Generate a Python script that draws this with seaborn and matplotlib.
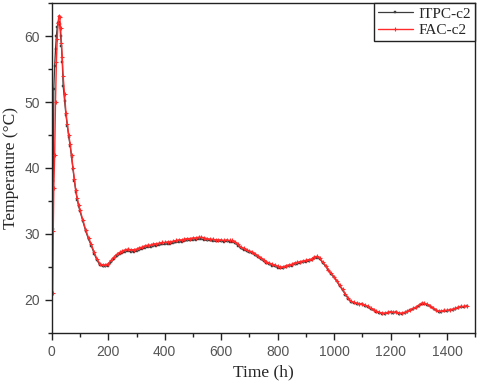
import numpy as np
import pandas as pd
import seaborn as sns
import matplotlib.pyplot as plt
from matplotlib.ticker import MultipleLocator

# sampling times (h)
time_h = [3, 5, 7, 10, 13, 16, 19, 22, 25, 28, 31, 34, 37, 40, 45, 50, 55, 60, 65, 70,
          75, 80, 85, 90, 95, 100] + list(range(110, 1471, 10))

fac_c2 = [21.0, 30.5, 37.0, 42.0, 50.0, 56.0, 59.5, 62.0, 63.1, 62.9, 61.2, 59.0, 56.8,
          54.0, 51.2, 48.4, 46.6, 45.0, 43.6, 41.9, 40.0, 38.3, 36.6, 35.4, 34.4, 33.6,
          # 110 - 300
          32.1, 30.6, 29.4, 28.4, 27.2, 26.2, 25.5, 25.3, 25.3, 25.5, 26.0, 26.5, 26.9,
          27.2, 27.4, 27.6, 27.7, 27.6, 27.6, 27.7,
          # 310 - 500
          27.9, 28.0, 28.2, 28.3, 28.3, 28.5, 28.5, 28.6, 28.7, 28.7, 28.8, 28.8, 28.9,
          29.0, 29.1, 29.1, 29.2, 29.3, 29.3, 29.4,
          # 510 - 700
          29.4, 29.5, 29.5, 29.4, 29.3, 29.2, 29.2, 29.1, 29.1, 29.1, 29.0, 29.1, 29.0,
          29.0, 28.8, 28.4, 28.0, 27.8, 27.6, 27.4,
          # 710 - 900
          27.3, 27.0, 26.7, 26.4, 26.1, 25.8, 25.6, 25.4, 25.3, 25.1, 25.0, 25.0, 25.2,
          25.3, 25.4, 25.6, 25.7, 25.8, 25.9, 26.0,
          # 910 - 1100
          26.1, 26.2, 26.5, 26.6, 26.3, 25.7, 25.2, 24.6, 24.0, 23.5, 22.9, 22.2, 21.6,
          20.9, 20.3, 19.8, 19.6, 19.5, 19.4, 19.4,
          # 1110 - 1300
          19.2, 19.0, 18.7, 18.5, 18.3, 18.1, 18.0, 18.0, 18.1, 18.2, 18.1, 18.2, 18.0,
          18.0, 18.1, 18.3, 18.5, 18.7, 18.9, 19.2,
          # 1310 - 1470
          19.5, 19.5, 19.3, 19.1, 18.8, 18.5, 18.3, 18.3, 18.4, 18.4, 18.5, 18.6, 18.7,
          18.9, 19.0, 19.0, 19.1]

itpc_c2 = [30.8, 38.0, 52.0, 55.5, 58.0, 60.0, 61.3, 62.0, 62.2, 61.8, 60.0, 58.5, 56.0,
           52.5, 50.2, 48.0, 46.3, 44.7, 43.3, 41.6, 39.8, 38.0, 36.4, 35.2, 34.2, 33.4,
           # 110 - 300
           31.9, 30.4, 29.2, 28.2, 27.0, 26.0, 25.3, 25.1, 25.1, 25.2, 25.7, 26.2, 26.6,
           26.9, 27.1, 27.3, 27.4, 27.3, 27.3, 27.4,
           # 310 - 500
           27.6, 27.7, 27.9, 28.0, 28.0, 28.2, 28.2, 28.3, 28.4, 28.4, 28.5, 28.5, 28.6,
           28.7, 28.8, 28.8, 28.9, 29.0, 29.0, 29.1,
           # 510 - 700
           29.1, 29.2, 29.2, 29.1, 29.0, 29.0, 28.9, 28.9, 28.9, 28.9, 28.8, 28.9, 28.8,
           28.8, 28.6, 28.2, 27.8, 27.6, 27.4, 27.2,
           # 710 - 900
           27.1, 26.8, 26.5, 26.2, 25.9, 25.6, 25.4, 25.2, 25.1, 24.9, 24.8, 24.8, 25.0,
           25.1, 25.2, 25.4, 25.5, 25.6, 25.7, 25.8,
           # 910 - 1100
           25.9, 26.0, 26.3, 26.4, 26.2, 25.6, 25.1, 24.5, 23.9, 23.4, 22.8, 22.1, 21.5,
           20.8, 20.2, 19.7, 19.5, 19.4, 19.3, 19.3,
           # 1110 - 1300
           19.1, 18.9, 18.6, 18.4, 18.2, 18.0, 17.9, 17.9, 18.0, 18.1, 18.0, 18.1, 17.9,
           17.9, 18.0, 18.2, 18.4, 18.6, 18.8, 19.1,
           # 1310 - 1470
           19.4, 19.4, 19.2, 19.0, 18.7, 18.4, 18.2, 18.2, 18.3, 18.3, 18.4, 18.5, 18.6,
           18.8, 18.9, 18.9, 19.0]

df = pd.DataFrame({"time": time_h, "ITPC-c2": itpc_c2, "FAC-c2": fac_c2})

sns.set_style("ticks")
serif = ["Liberation Serif", "DejaVu Serif"]
sans = ["Liberation Sans", "DejaVu Sans"]

fig = plt.figure(figsize=(4.8, 3.87), dpi=100)
ax = fig.add_axes([0.108, 0.140, 0.882, 0.852])

black = "#3c3c3c"
red = "#ff2a2a"
sns.lineplot(data=df, x="time", y="ITPC-c2", ax=ax, color=black, linewidth=0.9,
             marker="s", markersize=2.0, markeredgewidth=0.3, markeredgecolor=black,
             label="ITPC-c2")
sns.lineplot(data=df, x="time", y="FAC-c2", ax=ax, color=red, linewidth=1.0,
             marker="+", markersize=3, markeredgewidth=0.8, markeredgecolor=red,
             label="FAC-c2")

ax.set_xlim(0, 1500)
ax.set_ylim(15, 65)
ax.xaxis.set_major_locator(MultipleLocator(200))
ax.xaxis.set_minor_locator(MultipleLocator(100))
ax.yaxis.set_major_locator(MultipleLocator(10))
ax.yaxis.set_minor_locator(MultipleLocator(5))
ax.set_yticks([20, 30, 40, 50, 60])

ax.tick_params(which="major", direction="out", length=5, width=1, colors="#222",
               labelcolor="#555", labelsize=10, top=False, right=False)
ax.tick_params(which="minor", direction="out", length=3, width=1, colors="#222",
               top=False, right=False)
for lbl in ax.get_xticklabels() + ax.get_yticklabels():
    lbl.set_family(sans)
for sp in ax.spines.values():
    sp.set_visible(True)
    sp.set_color("#222")
    sp.set_linewidth(1.0)

ax.set_xlabel("Time (h)", family=serif, fontsize=12.5, labelpad=4)
ax.set_ylabel("Temperature (\u00b0C)", family=serif, fontsize=12.5, labelpad=4)

leg = ax.legend(loc="upper right", borderaxespad=0, fancybox=False, framealpha=1,
                edgecolor="#222", prop={"family": serif, "size": 11},
                handlelength=2.3, handletextpad=0.4, borderpad=0.25, labelspacing=0.2)
leg.get_frame().set_linewidth(1.0)

fig.savefig("out.png", dpi=100)
